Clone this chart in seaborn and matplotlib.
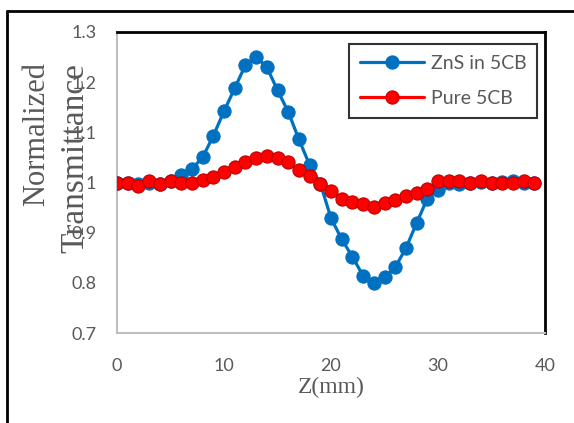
import matplotlib
matplotlib.use("Agg")
import matplotlib.pyplot as plt
import seaborn as sns
import pandas as pd
from matplotlib.lines import Line2D
from matplotlib.ticker import FuncFormatter

# ---- data ----
z_mm = list(range(40))
zns_in_5cb = [1.000, 1.000, 0.998, 1.000, 0.998, 1.003, 1.015, 1.027, 1.050, 1.093,
              1.142, 1.188, 1.234, 1.251, 1.230, 1.184, 1.141, 1.086, 1.035, 0.998,
              0.929, 0.887, 0.852, 0.814, 0.799, 0.811, 0.831, 0.869, 0.919, 0.968,
              0.986, 0.999, 0.998, 1.000, 1.001, 1.000, 1.001, 1.003, 1.000, 1.000]
pure_5cb = [1.000, 1.000, 0.994, 1.002, 0.997, 1.002, 0.999, 1.000, 1.004, 1.010,
            1.020, 1.030, 1.041, 1.048, 1.053, 1.048, 1.040, 1.025, 1.013, 0.997,
            0.983, 0.968, 0.962, 0.957, 0.952, 0.959, 0.965, 0.973, 0.979, 0.987,
            1.002, 1.002, 1.002, 1.000, 1.002, 1.000, 1.000, 1.000, 1.002, 1.000]
series_names = ["ZnS in 5CB", "Pure 5CB"]
x_ticks = [0, 10, 20, 30, 40]
y_ticks = [0.7, 0.8, 0.9, 1.0, 1.1, 1.2, 1.3]

sns.set_theme(style="white")
plt.rcParams["font.family"] = ["Lato", "DejaVu Sans"]

W, H = 574, 423
fig = plt.figure(figsize=(W / 100, H / 100), dpi=100)
ax = fig.add_axes([117 / W, 1 - 333 / H, (545 - 117) / W, (333 - 32) / H])

gray = "#595959"
df1 = pd.DataFrame({"z": z_mm, "T": zns_in_5cb})
df2 = pd.DataFrame({"z": z_mm, "T": pure_5cb})
sns.lineplot(data=df1, x="z", y="T", ax=ax, color="#0070C0", linewidth=2.3,
             marker="o", markersize=9.5, markeredgecolor="#0070C0",
             markeredgewidth=0.8, label=series_names[0], zorder=3)
sns.lineplot(data=df2, x="z", y="T", ax=ax, color="#FF0000", linewidth=2.3,
             marker="o", markersize=9.5, markeredgecolor="#C00000",
             markeredgewidth=0.8, label=series_names[1], zorder=4)

ax.set_xlim(0, 40)
ax.set_ylim(0.7, 1.3)
ax.set_xticks(x_ticks)
ax.set_yticks(y_ticks)
ax.yaxis.set_major_formatter(FuncFormatter(lambda v, p: f"{v:g}"))
ax.tick_params(axis="both", length=0, labelsize=13, labelcolor=gray)
ax.tick_params(axis="y", pad=15)
ax.tick_params(axis="x", pad=18)

for s in ("left", "bottom"):
    ax.spines[s].set_color("#BFBFBF")
    ax.spines[s].set_linewidth(1.5)
for s in ("top", "right"):
    ax.spines[s].set_color("black")
    ax.spines[s].set_linewidth(2)

ax.set_xlabel("Z(mm)", fontsize=17, color=gray, family="Liberation Serif", labelpad=2)
ax.set_ylabel("")

fig.text(37 / W, 1 - 134 / H, "Normalized", rotation=90, ha="center", va="center",
         fontsize=22, color=gray, family="Liberation Serif")
fig.text(75 / W, 1 - 158 / H, "Transmittance", rotation=90, ha="center", va="center",
         fontsize=24, color=gray, family="Liberation Serif")

leg = ax.legend(loc="upper right", bbox_to_anchor=(537 / W, 1 - 44 / H),
                bbox_transform=fig.transFigure, borderaxespad=0, fancybox=False,
                frameon=True, fontsize=14, handlelength=3.3, labelspacing=0.95,
                borderpad=0.55, handletextpad=0.35)
leg.get_frame().set_edgecolor("black")
leg.get_frame().set_linewidth(1.5)
for t in leg.get_texts():
    t.set_color(gray)

# outer chart border (left and top visible)
fig.add_artist(Line2D([7 / W, 7 / W], [0, 1 - 11 / H], color="black", linewidth=2,
                      transform=fig.transFigure))
fig.add_artist(Line2D([7 / W, 1], [1 - 11 / H, 1 - 11 / H], color="black", linewidth=2,
                      transform=fig.transFigure))

fig.savefig("out.png", dpi=100)
